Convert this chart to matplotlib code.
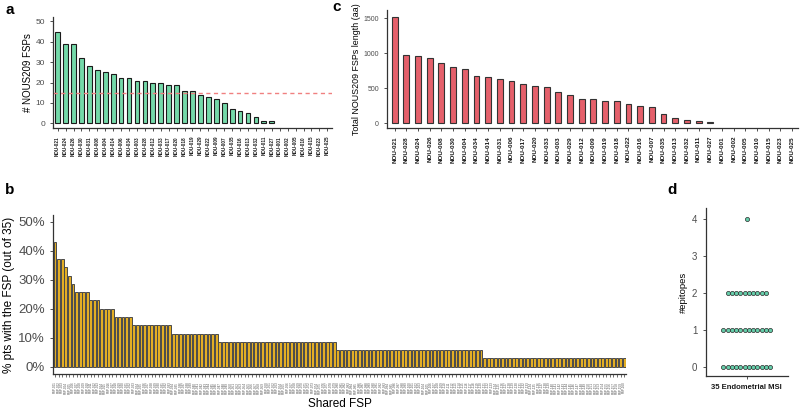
import numpy as np
import matplotlib
matplotlib.use('Agg')
import matplotlib.pyplot as plt
from matplotlib.ticker import FuncFormatter

plt.rcParams['font.family'] = ['Liberation Sans', 'DejaVu Sans']

# ---- data ----
# panel a: number of NOUS209 FSPs per patient
a_labels = ['NOU-021', 'NOU-024', 'NOU-026', 'NOU-030', 'NOU-031', 'NOU-008', 'NOU-004',
            'NOU-014', 'NOU-006', 'NOU-034', 'NOU-003', 'NOU-028', 'NOU-012', 'NOU-033',
            'NOU-017', 'NOU-020', 'NOU-018', 'NOU-019', 'NOU-029', 'NOU-022', 'NOU-009',
            'NOU-007', 'NOU-035', 'NOU-016', 'NOU-013', 'NOU-032', 'NOU-011', 'NOU-027',
            'NOU-001', 'NOU-002', 'NOU-005', 'NOU-010', 'NOU-015', 'NOU-023', 'NOU-025']
a_values = [45, 39, 39, 32, 28, 26, 25, 24, 22, 22, 21, 21, 20, 20, 19, 19, 16, 16, 14, 13,
            12, 10, 7, 6, 5, 3, 1, 1, 0, 0, 0, 0, 0, 0, 0]
a_threshold = 15

# panel c: total FSP length per patient (aa)
c_labels = ['NOU-021', 'NOU-028', 'NOU-024', 'NOU-026', 'NOU-008', 'NOU-030', 'NOU-004',
            'NOU-034', 'NOU-014', 'NOU-031', 'NOU-006', 'NOU-017', 'NOU-020', 'NOU-033',
            'NOU-003', 'NOU-029', 'NOU-012', 'NOU-009', 'NOU-019', 'NOU-018', 'NOU-022',
            'NOU-016', 'NOU-007', 'NOU-035', 'NOU-013', 'NOU-032', 'NOU-011', 'NOU-027',
            'NOU-001', 'NOU-002', 'NOU-005', 'NOU-010', 'NOU-015', 'NOU-023', 'NOU-025']
c_values = [1520, 970, 957, 937, 861, 800, 780, 671, 657, 628, 609, 561, 528, 514, 447, 400,
            347, 343, 318, 314, 271, 243, 228, 128, 80, 52, 28, 14, 0, 0, 0, 0, 0, 0, 0]

# panel b: shared FSPs, patients carrying it (out of 35) and how many FSPs at that level
b_patients = [15, 13, 12, 11, 10, 9, 8, 7, 6, 5, 4, 3, 2, 1]
b_nfsp = [1, 2, 1, 1, 1, 4, 3, 4, 5, 11, 13, 33, 41, 40]
n_pts = 35

# panel d: epitopes per patient
d_epitopes = [4,
              2, 2, 2, 2, 2, 2, 2, 2, 2, 2,
              1, 1, 1, 1, 1, 1, 1, 1, 1, 1, 1, 1,
              0, 0, 0, 0, 0, 0, 0, 0, 0, 0, 0, 0]

GREEN = '#74D9A9'
RED = '#E5606B'
GOLD = '#E3AE24'
TICK_TXT = '#4D4D4D'


def style_axes(ax):
    for s in ['top', 'right']:
        ax.spines[s].set_visible(False)
    for s in ['left', 'bottom']:
        ax.spines[s].set_color('#333333')
        ax.spines[s].set_linewidth(0.9)
    ax.tick_params(colors='#333333', labelcolor=TICK_TXT, length=2.5, width=0.6)


fig = plt.figure(figsize=(8, 4.19), dpi=100)

# ---- panel a ----
ax = fig.add_axes([0.0666, 0.6938, 0.348, 0.2662])
xa = np.arange(len(a_values))
ax.bar(xa, a_values, width=0.6, color=GREEN, edgecolor='#1a1a1a',
       linewidth=[0.8 if v > 0 else 0 for v in a_values])
ax.axhline(a_threshold, color='#F08080', linestyle=(0, (3, 2.5)), linewidth=1.0)
ax.set_xlim(-0.55, len(a_values) - 0.45)
ax.set_ylim(-2.45, 52.3)
ax.set_yticks([0, 10, 20, 30, 40, 50])
ax.set_xticks(xa)
ax.set_xticklabels(a_labels, rotation=90, fontsize=3.3, fontweight='bold', color='#1a1a1a')
ax.tick_params(axis='y', labelsize=6)
ax.set_ylabel('# NOUS209 FSPs', fontsize=7, labelpad=2)
style_axes(ax)
ax.tick_params(axis='x', labelcolor='#1a1a1a', length=2)

# ---- panel c ----
ax = fig.add_axes([0.4841, 0.6938, 0.5134, 0.2823])
xc = np.arange(len(c_values))
ax.bar(xc, c_values, width=0.5, color=RED, edgecolor='#333333',
       linewidth=[0.8 if v > 0 else 0 for v in c_values])
ax.set_xlim(-0.63, len(c_values) - 0.5)
ax.set_ylim(-71, 1619)
ax.set_yticks([0, 500, 1000, 1500])
ax.set_xticks(xc)
ax.set_xticklabels(c_labels, rotation=90, fontsize=4.6, fontweight='bold', color='#1a1a1a')
ax.tick_params(axis='y', labelsize=5)
ax.set_ylabel('Total NOUS209 FSPs length (aa)', fontsize=6.4, labelpad=2)
style_axes(ax)
ax.tick_params(axis='x', labelcolor='#1a1a1a', length=2)

# ---- panel b ----
ax = fig.add_axes([0.0666, 0.1074, 0.7159, 0.3795])
b_frac = np.repeat(np.array(b_patients) / n_pts, b_nfsp)
b_names = ['FSP-%03d' % (i + 1) for i in range(len(b_frac))]
xb = np.arange(len(b_frac))
ax.bar(xb, b_frac, width=0.78, color=GOLD, edgecolor='#4a4a4a', linewidth=0.7)
ax.set_xlim(-0.5, len(b_frac) - 0.5)
ax.set_ylim(-0.0253, 0.523)
ax.set_yticks([0, 0.1, 0.2, 0.3, 0.4, 0.5])
ax.yaxis.set_major_formatter(FuncFormatter(lambda v, p: '%d%%' % round(v * 100)))
ax.set_xticks(xb)
ax.set_xticklabels(b_names, rotation=90, fontsize=2.2, color='#555555')
ax.tick_params(axis='y', labelsize=9.5)
ax.set_ylabel('% pts with the FSP (out of 35)', fontsize=8.5, labelpad=2)
ax.set_xlabel('Shared FSP', fontsize=8.5, labelpad=3)
style_axes(ax)
ax.tick_params(axis='x', length=2, width=0.5)

# ---- panel d ----
ax = fig.add_axes([0.8821, 0.1026, 0.1029, 0.401])
eps = np.array(d_epitopes)
dx = 0.062
for lvl in np.unique(eps):
    n = np.sum(eps == lvl)
    xs = 1 + (np.arange(n) - (n - 1) / 2) * dx
    ax.scatter(xs, np.full(n, lvl), s=9, color='#66CDAA', edgecolor='#2a2a2a',
               linewidth=0.5, zorder=3)
ax.set_xlim(0.4, 1.6)
ax.set_ylim(-0.25, 4.3)
ax.set_yticks([0, 1, 2, 3, 4])
ax.set_xticks([1])
ax.set_xticklabels(['35 Endometrial MSI'], fontsize=5.5, fontweight='bold', color='#1a1a1a')
ax.tick_params(axis='y', labelsize=7)
ax.set_ylabel('#epitopes', fontsize=6.8, labelpad=3)
style_axes(ax)
ax.tick_params(axis='x', labelcolor='#1a1a1a')

# panel letters
for letter, x, y in [('a', 10, 10), ('c', 337, 7), ('b', 10, 190), ('d', 672, 190)]:
    fig.text(x / 800, 1 - y / 419, letter, fontsize=11, fontweight='bold',
             ha='center', va='center')

fig.savefig('out.png', dpi=100)
